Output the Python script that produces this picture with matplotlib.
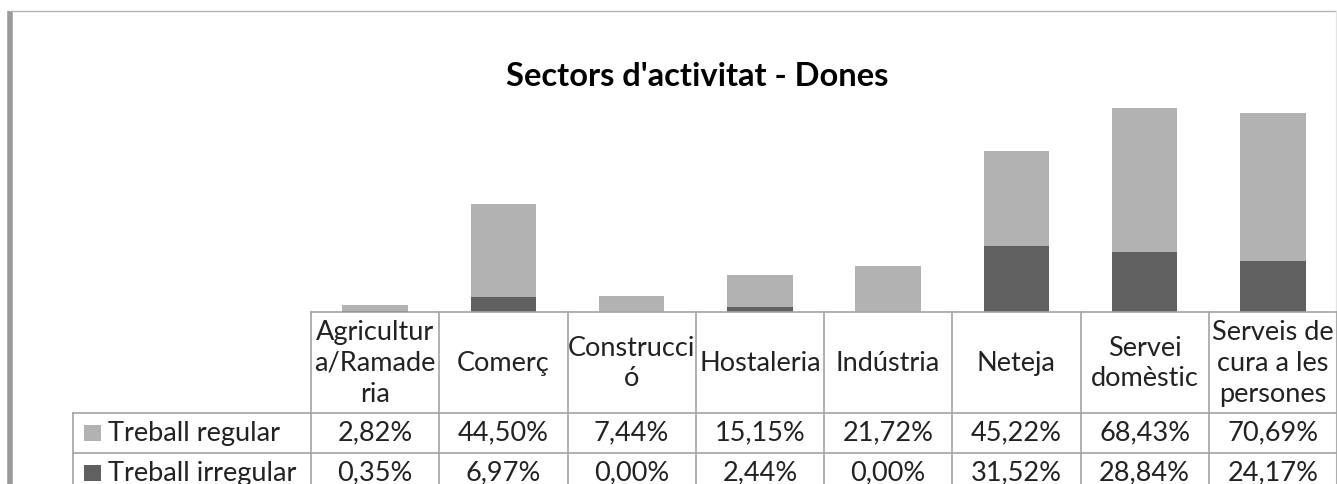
import matplotlib
matplotlib.use("Agg")
import matplotlib.pyplot as plt
from matplotlib.patches import Rectangle

plt.rcParams['font.family'] = ['Lato', 'DejaVu Sans']

# ---- data ----
categories = ["Agricultur\na/Ramade\nria", "Comerç", "Construcci\nó", "Hostaleria",
              "Indústria", "Neteja", "Servei\ndomèstic", "Serveis de\ncura a les\npersones"]
series_names = ["Treball regular", "Treball irregular"]
regular = [2.82, 44.50, 7.44, 15.15, 21.72, 45.22, 68.43, 70.69]
irregular = [0.35, 6.97, 0.00, 2.44, 0.00, 31.52, 28.84, 24.17]
title = "Sectors d'activitat - Dones"

# ---- style ----
W, H = 1337, 484
LIGHT = "#B2B2B2"
DARK = "#606060"
GRID = "#A3A3A3"
TXT = "#222222"
FS = 19.5

fig = plt.figure(figsize=(W / 100, H / 100), dpi=100)
fig.patch.set_facecolor("white")

# table geometry (pixels)
col_left = 311
col_w = (W - col_left) / len(categories)
base_y = 312
row_lines = [413, 453, 493]
leg_left = 73
ymax = 120
px_per_unit = 2.097
ax_top = base_y - ymax * px_per_unit

# bar axes
ax = fig.add_axes([col_left / W, 1 - base_y / H, (W - col_left) / W, (base_y - ax_top) / H])
x = list(range(len(categories)))
ax.bar(x, irregular, width=0.51, color=DARK, zorder=2)
ax.bar(x, regular, width=0.51, bottom=irregular, color=LIGHT, zorder=2)
ax.set_xlim(-0.5, len(categories) - 0.5)
ax.set_ylim(0, ymax)
ax.axis("off")

# overlay axes in pixel coordinates
ov = fig.add_axes([0, 0, 1, 1], zorder=5)
ov.set_xlim(0, W)
ov.set_ylim(H, 0)
ov.axis("off")
ov.patch.set_alpha(0)

# chart border
ov.plot([10, 10], [11, H], color="#9A9A9A", lw=4.0, solid_capstyle="butt")
ov.plot([10, W], [11, 11], color="#B4B4B4", lw=1.0)
ov.plot([W - 1.5, W - 1.5], [11, H], color="#E4E4E4", lw=1.0)

# title
ov.text(697, 77, title, ha="center", va="center", fontsize=23.5, fontweight="bold", color="black")

# table lines
ov.plot([col_left, W], [base_y, base_y], color=GRID, lw=1.2)
for r in row_lines:
    ov.plot([leg_left, W], [r, r], color=GRID, lw=1.2)
ov.plot([leg_left, leg_left], [row_lines[0], H], color=GRID, lw=1.2)
for i in range(len(categories) + 1):
    xx = col_left + i * col_w
    ov.plot([xx, xx], [base_y, H], color=GRID, lw=1.2)

# header
for i, c in enumerate(categories):
    ov.text(col_left + (i + 0.5) * col_w, (base_y + row_lines[0]) / 2 + 1, c,
            ha="center", va="center", fontsize=FS, color=TXT, linespacing=1.3)

# rows
for k, (name, vals, colr) in enumerate(zip(series_names, [regular, irregular], [LIGHT, DARK])):
    y0, y1 = row_lines[k], row_lines[k + 1]
    yc = (y0 + y1) / 2
    ov.add_patch(Rectangle((84, yc - 8), 17, 16, facecolor=colr, edgecolor="none"))
    ov.text(108, yc, name, ha="left", va="center", fontsize=FS, color=TXT)
    for i, v in enumerate(vals):
        s = f"{v:.2f}%".replace(".", ",")
        ov.text(col_left + (i + 0.5) * col_w, yc, s, ha="center", va="center",
                fontsize=FS, color=TXT)

fig.savefig("out.png", dpi=100, facecolor="white")
